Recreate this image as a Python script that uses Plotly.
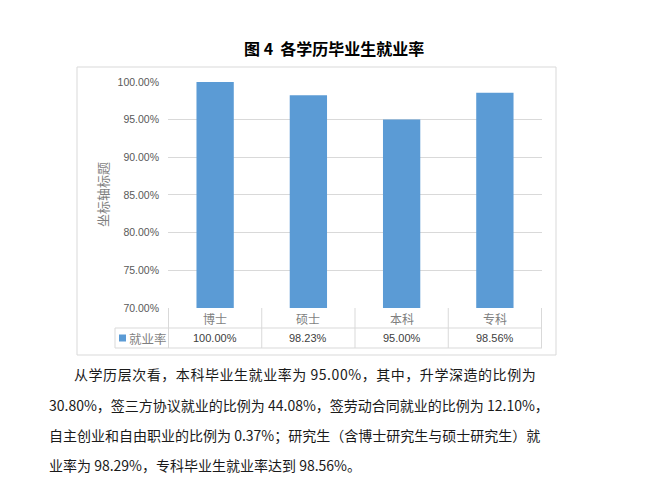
import plotly.graph_objects as go

# data
categories = ["博士", "硕士", "本科", "专科"]
rates = [1.0000, 0.9823, 0.9500, 0.9856]
series_name = "就业率"
y_ticks = [0.70, 0.75, 0.80, 0.85, 0.90, 0.95, 1.00]

title_text = "图 4\u00a0\u00a0各学历毕业生就业率"
axis_title = "坐标轴标题"
paragraph = [
    "从学历层次看，本科毕业生就业率为 95.00%，其中，升学深造的比例为",
    "30.80%，签三方协议就业的比例为 44.08%，签劳动合同就业的比例为 12.10%，",
    "自主创业和自由职业的比例为 0.37%；研究生（含博士研究生与硕士研究生）就",
    "业率为 98.29%，专科毕业生就业率达到 98.56%。",
]

W, H = 648, 501
OFF = 8  # page body margin shifts the plot div
BLUE = "#5b9bd5"
LINE = "#d9d9d9"
CJK = "Noto Sans CJK SC"


def px(x):
    return (x - OFF) / W


def py(y):
    return 1 - (y - OFF) / H


fig = go.Figure()
fig.add_trace(go.Bar(x=categories, y=rates, marker_color=BLUE, name=series_name,
                     marker_line_width=0, showlegend=False, hoverinfo="skip"))

shapes = []
# outer chart frame
shapes.append(dict(type="rect", xref="paper", yref="paper", x0=px(77), x1=px(556),
                   y0=py(355), y1=py(67), line=dict(color=LINE, width=1)))
# data table lines
row1, row2, row3 = py(308), py(328), py(348)
for yy in (row2, row3):
    shapes.append(dict(type="line", xref="paper", yref="paper", x0=px(115), x1=px(542),
                       y0=yy, y1=yy, line=dict(color=LINE, width=1)))
shapes.append(dict(type="line", xref="paper", yref="paper", x0=px(115), x1=px(115),
                   y0=row2, y1=row3, line=dict(color=LINE, width=1)))
for i in range(len(categories) + 1):
    shapes.append(dict(type="line", xref="x", yref="paper", x0=i - 0.5, x1=i - 0.5,
                       y0=row1, y1=row3, line=dict(color=LINE, width=1)))
# legend key
shapes.append(dict(type="rect", xref="paper", yref="paper", x0=px(119), x1=px(126),
                   y0=py(341.5), y1=py(334.5), fillcolor=BLUE, line=dict(width=0)))


def note(text, x, y, size, color, xref="paper", xanchor="center", family=CJK, angle=0):
    return dict(text=text, x=x, y=y, xref=xref, yref="paper", xanchor=xanchor,
                yanchor="middle", showarrow=False, textangle=angle,
                font=dict(family=family, size=size, color=color))


ann = []
ann.append(note(f"<b>{title_text}</b>", px(334), py(48), 16, "#000000"))
ann.append(note(axis_title, px(102), py(195), 13, "#7f7f7f", angle=-90))
for c, v in zip(categories, rates):
    ann.append(note(c, c, py(318), 12, "#7f7f7f", xref="x"))
    ann.append(note(f"{v * 100:.2f}%", c, py(338), 11, "#404040", xref="x",
                    family="Liberation Sans"))
ann.append(note(series_name, px(127), py(338), 12.5, "#7f7f7f", xanchor="left"))

line_y = [374, 405, 435, 465]
line_x = [72, 47, 47, 47]
spacing = [0.55, 0, 0, 0]
for t, xx, yy, sp in zip(paragraph, line_x, line_y, spacing):
    txt = f'<span style="letter-spacing:{sp}px">{t}</span>' if sp else t
    ann.append(note(txt, px(xx), py(yy), 14, "#1a1a1a", xanchor="left"))

fig.update_layout(
    width=W, height=H,
    autosize=False,
    margin=dict(l=0, r=0, t=0, b=0, pad=0, autoexpand=False),
    paper_bgcolor="white", plot_bgcolor="white",
    bargap=0.6,
    shapes=shapes,
    annotations=ann,
    xaxis=dict(domain=[px(168), px(542)], showticklabels=False, showgrid=False,
               zeroline=False, showline=False, ticks="", automargin=False),
    yaxis=dict(domain=[py(308), py(81.5)], range=[0.70, 1.0005], tickvals=y_ticks,
               tickformat=".2%", showgrid=True, gridcolor=LINE, gridwidth=1,
               zeroline=False, showline=False, ticks="", ticklabelstandoff=8,
               automargin=False,
               tickfont=dict(family="Liberation Sans", size=10.5, color="#595959")),
)

fig.write_html("out.html")
